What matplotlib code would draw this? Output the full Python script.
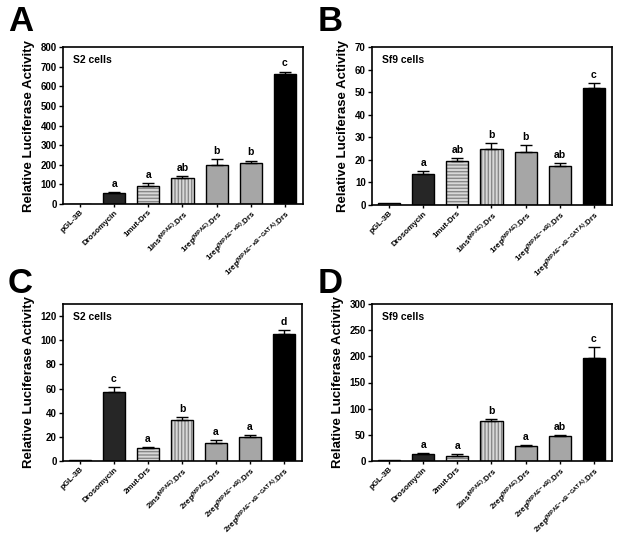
import matplotlib.pyplot as plt

plt.rcParams['font.family'] = ['Liberation Sans', 'DejaVu Sans']
plt.rcParams['mathtext.fontset'] = 'custom'
plt.rcParams['mathtext.rm'] = 'Liberation Sans'
plt.rcParams['mathtext.bf'] = 'Liberation Sans:bold'
plt.rcParams['mathtext.it'] = 'Liberation Sans:italic'

# construct names (mathtext for the superscripts)
labels_1 = ['pGL-3B', 'Drosomycin', '1mut-Drs',
            r'1ins$^{\mathbf{(MPAE)}}$.Drs', r'1rep$^{\mathbf{(MPAE)}}$.Drs',
            r'1rep$^{\mathbf{(MPAE-\kappa B)}}$.Drs',
            r'1rep$^{\mathbf{(MPAE-\kappa B-GATA)}}$.Drs']
labels_2 = ['pGL-3B', 'Drosomycin', '2mut-Drs',
            r'2ins$^{\mathbf{(MPAE)}}$.Drs', r'2rep$^{\mathbf{(MPAE)}}$.Drs',
            r'2rep$^{\mathbf{(MPAE-\kappa B)}}$.Drs',
            r'2rep$^{\mathbf{(MPAE-\kappa B-GATA)}}$.Drs']

# values (mean, sem)
a_vals = [1, 57, 90, 135, 200, 207, 660]
a_err = [0, 5, 15, 8, 30, 14, 15]
a_sig = ['', 'a', 'a', 'ab', 'b', 'b', 'c']

b_vals = [1, 13.7, 19.3, 25.0, 23.7, 17.2, 51.8]
b_err = [0, 1.3, 1.5, 2.3, 3.0, 1.2, 2.4]
b_sig = ['', 'a', 'ab', 'b', 'b', 'ab', 'c']

c_vals = [1, 57, 10.5, 34, 14.5, 19.5, 105]
c_err = [0, 4.5, 1.2, 2.2, 3.0, 2.0, 3.5]
c_sig = ['', 'c', 'a', 'b', 'a', 'a', 'd']

d_vals = [1, 14, 10.5, 77, 29.5, 47, 196]
d_err = [0, 1, 2, 3.5, 1, 2.5, 22]
d_sig = ['', 'a', 'a', 'b', 'a', 'ab', 'c']

fills = ['#d0d0d0', '#262626', '#d8d8d8', '#d8d8d8', '#a6a6a6', '#a6a6a6', '#000000']
hatches = [None, None, '-----', '|||||', None, None, None]

panels = [
    ('A', 'S2 cells', labels_1, a_vals, a_err, a_sig, 800, 100),
    ('B', 'Sf9 cells', labels_1, b_vals, b_err, b_sig, 70, 10),
    ('C', 'S2 cells', labels_2, c_vals, c_err, c_sig, 130, 20),
    ('D', 'Sf9 cells', labels_2, d_vals, d_err, d_sig, 300, 50),
]
# axes rectangles in pixels (621 x 541)
W, H = 621, 541
boxes = [(63, 47, 303, 204), (372, 47, 612, 205), (63, 304, 302, 461), (372, 304, 612, 461)]
letter_pos = [(8, 38), (318, 38), (8, 300), (318, 300)]

fig = plt.figure(figsize=(6.21, 5.41), dpi=100)

for (letter, cells, labels, vals, errs, sig, ymax, step), box, lp in zip(panels, boxes, letter_pos):
    x0, y0, x1, y1 = box
    ax = fig.add_axes([x0 / W, 1 - y1 / H, (x1 - x0) / W, (y1 - y0) / H])
    x = range(len(vals))
    for i in x:
        ax.bar(i, vals[i], width=0.65, color=fills[i], hatch=hatches[i],
               edgecolor='#888888' if hatches[i] else fills[i], linewidth=0, zorder=2)
        ax.bar(i, vals[i], width=0.65, fill=False, edgecolor='black', linewidth=1.0, zorder=3)
        if errs[i] > 0:
            ax.errorbar(i, vals[i], yerr=[[0], [errs[i]]], fmt='none', ecolor='black',
                        elinewidth=1.0, capsize=4, capthick=1.0, zorder=4)
        if sig[i]:
            ax.text(i, vals[i] + errs[i] + ymax * 0.02, sig[i], ha='center', va='bottom',
                    fontsize=7.5, fontweight='bold')
    ax.set_xlim(-0.5, 6.53)
    ax.set_ylim(0, ymax)
    ax.set_yticks(range(0, ymax + 1, step))
    ax.set_xticks(list(x))
    ax.set_xticklabels(labels, rotation=45, ha='right', rotation_mode='anchor',
                       fontsize=5.8, fontweight='bold')
    ax.tick_params(axis='x', length=2, width=1, pad=1.5)
    ax.tick_params(axis='y', length=3, width=1, labelsize=7, pad=1.5)
    for t in ax.get_yticklabels():
        t.set_fontweight('bold')
    for s in ax.spines.values():
        s.set_linewidth(1.2)
    ax.set_ylabel('Relative Luciferase Activity', fontsize=9.5, fontweight='bold', labelpad=4)
    ax.text(0.04, 0.95, cells, transform=ax.transAxes, ha='left', va='top',
            fontsize=7.5, fontweight='bold')
    fig.text(lp[0] / W, 1 - lp[1] / H, letter, fontsize=25, fontweight='bold',
             ha='left', va='bottom')

fig.savefig('out.png', dpi=100)
